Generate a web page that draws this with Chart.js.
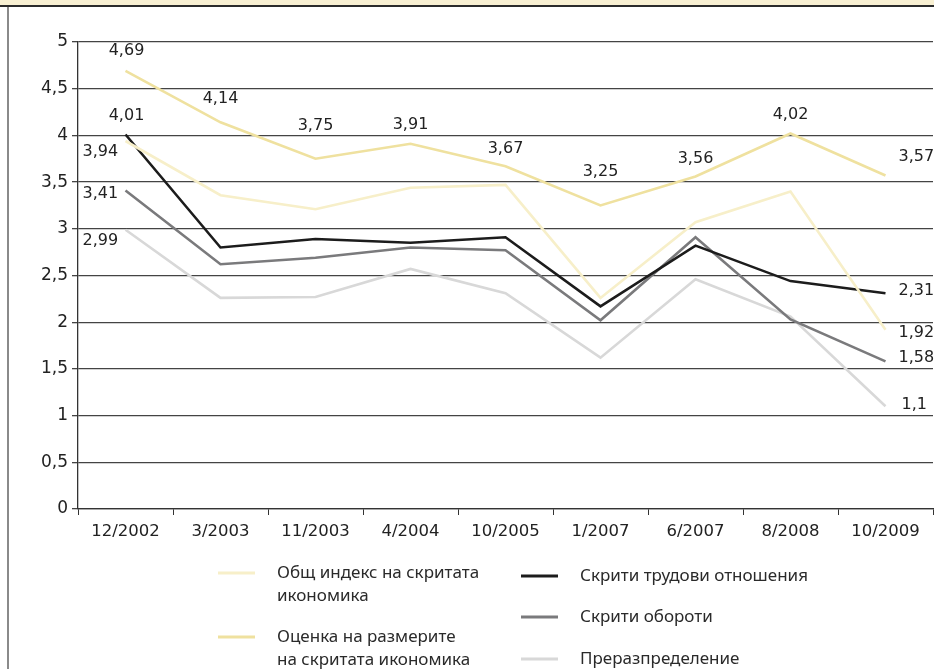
<!DOCTYPE html>
<html>
<head>
<meta charset="utf-8">
<script src="https://cdn.jsdelivr.net/npm/chart.js"></script>
<style>
  html, body { margin: 0; padding: 0; background: #fff; }
  #wrap { position: relative; width: 934px; height: 669px; }
</style>
</head>
<body>
<div id="wrap"><canvas id="myChart" width="934" height="669"></canvas></div>
<script>
// survey dates and index values
var dates = ['12/2002', '3/2003', '11/2003', '4/2004', '10/2005', '1/2007', '6/2007', '8/2008', '10/2009'];
var generalIndex = [3.94, 3.36, 3.21, 3.44, 3.47, 2.26, 3.07, 3.40, 1.92];
var sizeEstimate = [4.69, 4.14, 3.75, 3.91, 3.67, 3.25, 3.56, 4.02, 3.57];
var hiddenLabour = [4.01, 2.80, 2.89, 2.85, 2.91, 2.17, 2.82, 2.44, 2.31];
var hiddenTurnover = [3.41, 2.62, 2.69, 2.80, 2.77, 2.02, 2.91, 2.03, 1.58];
var redistribution = [2.99, 2.26, 2.27, 2.57, 2.31, 1.62, 2.46, 2.06, 1.1];
var yTicks = [0, 0.5, 1, 1.5, 2, 2.5, 3, 3.5, 4, 4.5, 5];

var chartFont = 'DejaVu Sans';
var legendFont = 'Noto Sans';

function comma(v) {
    return String(v).replace('.', ',');
}

// which values get a label and where it sits relative to its point
// [dataset, index, dx, dy, align]
var valueLabels = [
    [1, 0, 1, -20, 'center'], [1, 1, 0, -23, 'center'], [1, 2, 0, -33, 'center'],
    [1, 3, 0, -19, 'center'], [1, 4, 0, -17, 'center'], [1, 5, 0, -34, 'center'],
    [1, 6, 0, -18, 'center'], [1, 7, 0, -19, 'center'], [1, 8, 13, -19, 'left'],
    [2, 0, 1, -19, 'center'],
    [0, 0, -43, 11, 'left'], [3, 0, -43, 3, 'left'], [4, 0, -43, 11, 'left'],
    [2, 8, 13, -2, 'left'], [0, 8, 13, 3, 'left'], [3, 8, 13, -4, 'left'], [4, 8, 16, -1, 'left']
];

var decoration = {
    id: 'decoration',
    beforeDraw: function (chart) {
        var c = chart.ctx;
        c.save();
        c.fillStyle = '#f8f0d2';
        c.fillRect(0, 0, chart.width, 5);
        c.fillStyle = '#2b2b2b';
        c.fillRect(0, 5, chart.width, 2);
        c.fillStyle = '#8a8a8a';
        c.fillRect(7, 7, 2, chart.height - 7);
        c.restore();
    }
};

var valueLabelPlugin = {
    id: 'valueLabels',
    afterDatasetsDraw: function (chart) {
        var c = chart.ctx;
        c.save();
        c.font = '16px "' + chartFont + '"';
        c.fillStyle = '#222';
        c.textBaseline = 'middle';
        valueLabels.forEach(function (l) {
            var pt = chart.getDatasetMeta(l[0]).data[l[1]];
            var v = chart.data.datasets[l[0]].data[l[1]];
            c.textAlign = l[4];
            c.fillText(comma(v), pt.x + l[2], pt.y + l[3]);
        });
        c.restore();
    }
};

// legend in two columns under the plot
var legendPos = [
    [218, 573, ['Общ индекс на скритата', 'икономика']],
    [218, 637, ['Оценка на размерите', 'на скритата икономика']],
    [521, 576, ['Скрити трудови отношения']],
    [521, 617, ['Скрити обороти']],
    [521, 659, ['Преразпределение']]
];

var legendPlugin = {
    id: 'twoColLegend',
    afterDraw: function (chart) {
        var c = chart.ctx;
        c.save();
        c.font = '17px "' + legendFont + '"';
        c.fillStyle = '#2a2a2a';
        c.textBaseline = 'middle';
        c.textAlign = 'left';
        legendPos.forEach(function (p, i) {
            var ds = chart.data.datasets[i];
            c.strokeStyle = ds.borderColor;
            c.lineWidth = 3;
            c.beginPath();
            c.moveTo(p[0], p[1]);
            c.lineTo(p[0] + 37, p[1]);
            c.stroke();
            p[2].forEach(function (t, j) {
                c.fillText(t, p[0] + 59, p[1] + j * 23);
            });
        });
        c.restore();
    }
};

var ctx = document.getElementById('myChart').getContext('2d');

var myChart = new Chart(ctx, {
    type: 'line',
    data: {
        labels: dates,
        datasets: [
            { label: 'Общ индекс на скритата икономика', data: generalIndex, borderColor: '#f7efc9' },
            { label: 'Оценка на размерите на скритата икономика', data: sizeEstimate, borderColor: '#efe19f' },
            { label: 'Скрити трудови отношения', data: hiddenLabour, borderColor: '#1c1c1c' },
            { label: 'Скрити обороти', data: hiddenTurnover, borderColor: '#7a7a7c' },
            { label: 'Преразпределение', data: redistribution, borderColor: '#d8d8d8' }
        ]
    },
    options: {
        responsive: false,
        animation: false,
        datasets: {
            line: { borderWidth: 2.6, pointRadius: 0, tension: 0, fill: false }
        },
        layout: { padding: { top: 42, right: 1, bottom: 120, left: 0 } },
        plugins: {
            legend: { display: false },
            tooltip: { enabled: false }
        },
        scales: {
            x: {
                offset: true,
                afterFit: function (s) { s.height = 40; },
                grid: { offset: true, drawOnChartArea: false, tickLength: 6, color: '#333' },
                border: { color: '#333', width: 1.3 },
                ticks: { color: '#222', padding: 7, font: { family: chartFont, size: 16.5 } }
            },
            y: {
                min: 0,
                max: 5,
                afterFit: function (s) { s.width = 78; },
                afterBuildTicks: function (s) { s.ticks = yTicks.map(function (v) { return { value: v }; }); },
                grid: { color: '#444', lineWidth: 1.3, tickLength: 6 },
                border: { color: '#333', width: 1.3 },
                ticks: {
                    color: '#222', padding: 4, font: { family: chartFont, size: 17 },
                    callback: function (v) { return comma(v); }
                }
            }
        }
    },
    plugins: [decoration, valueLabelPlugin, legendPlugin]
});
</script>
</body>
</html>
